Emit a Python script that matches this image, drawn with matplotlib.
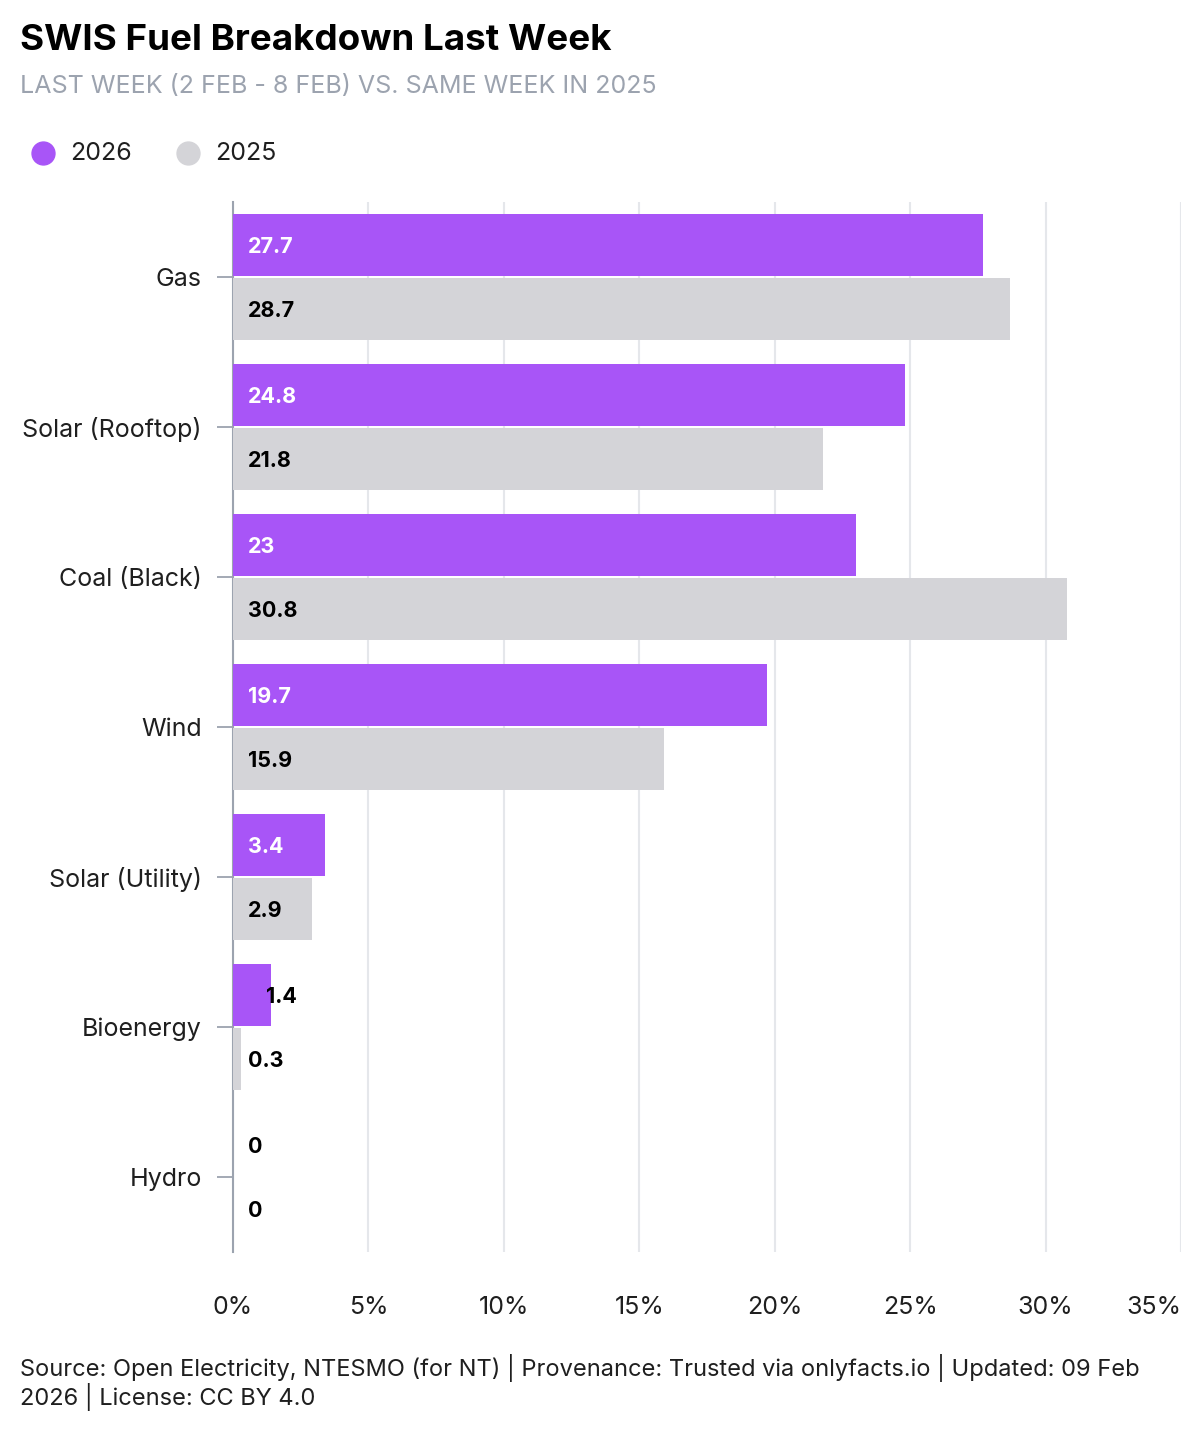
import matplotlib
matplotlib.use("Agg")
import matplotlib.pyplot as plt
from matplotlib.lines import Line2D

plt.rcParams['font.family'] = ['Inter', 'DejaVu Sans']

categories = ["Gas", "Solar (Rooftop)", "Coal (Black)", "Wind", "Solar (Utility)", "Bioenergy", "Hydro"]
values_2026 = [27.7, 24.8, 23, 19.7, 3.4, 1.4, 0]
values_2025 = [28.7, 21.8, 30.8, 15.9, 2.9, 0.3, 0]
label_2026 = ["27.7", "24.8", "23", "19.7", "3.4", "1.4", "0"]
label_2025 = ["28.7", "21.8", "30.8", "15.9", "2.9", "0.3", "0"]
xticks = [0, 5, 10, 15, 20, 25, 30, 35]
xtick_labels = ["0%", "5%", "10%", "15%", "20%", "25%", "30%", "35%"]
series_names = ["2026", "2025"]

PURPLE = "#a855f7"
GREY = "#d4d4d8"
GRID = "#e5e7eb"
AXIS = "#9ca3af"
TEXT = "#1f1f1f"

fig = plt.figure(figsize=(12, 14.4), dpi=100)
ax = fig.add_axes([233/1200, 188/1440, 948/1200, 1050/1440])

n = len(categories)
ys = list(range(n))
h = 0.413
off = 0.2133
ax.barh([y - off for y in ys], values_2026, height=h, color=PURPLE, zorder=3)
ax.barh([y + off for y in ys], values_2025, height=h, color=GREY, zorder=3)

lab_x = 0.55
va = "center_baseline"
for y, v, s in zip(ys, values_2026, label_2026):
    if v >= 2.5:
        ax.text(lab_x, y - off, s, color="white", fontweight="bold", fontsize=15.5, va=va, ha="left", zorder=4)
    elif v > lab_x:
        ax.text(v - 0.2, y - off, s, color="black", fontweight="bold", fontsize=15.5, va=va, ha="left", zorder=4)
    else:
        ax.text(lab_x, y - off, s, color="black", fontweight="bold", fontsize=15.5, va=va, ha="left", zorder=4)
for y, v, s in zip(ys, values_2025, label_2025):
    ax.text(lab_x, y + off, s, color="black", fontweight="bold", fontsize=15.5, va=va, ha="left", zorder=4)

ax.set_xlim(0, 35)
ax.set_ylim(n - 0.5, -0.5)
ax.set_xticks(xticks)
ax.set_xticklabels(xtick_labels, fontsize=18, color=TEXT)
ax.get_xticklabels()[-1].set_horizontalalignment("right")
ax.set_yticks(ys)
ax.set_yticklabels(categories, fontsize=18, color=TEXT)
ax.tick_params(axis="x", length=0, pad=32)
ax.tick_params(axis="y", length=11.5, width=1.3, color=AXIS, pad=11)
ax.xaxis.grid(True, color=GRID, linewidth=1.5, zorder=0)
ax.set_axisbelow(True)
for s in ["top", "right", "bottom"]:
    ax.spines[s].set_visible(False)
ax.spines["left"].set_color(AXIS)
ax.spines["left"].set_linewidth(1.5)
ax.spines["left"].set_zorder(1)

fig.text(20/1200, 1 - 40/1440, "SWIS Fuel Breakdown Last Week", fontsize=26.5, fontweight="bold", color="black", va="center", ha="left")
fig.text(20/1200, 1 - 87/1440, "LAST WEEK (2 FEB - 8 FEB) VS. SAME WEEK IN 2025", fontsize=18, color=AXIS, va="center", ha="left")

# legend
ly = 1 - 153/1440
for (cx, tx), name, col in zip([(43, 70), (188, 215)], series_names, [PURPLE, GREY]):
    fig.add_artist(Line2D([cx/1200], [ly], marker="o", linestyle="", markersize=16.5,
                          markerfacecolor=col, markeredgecolor=col, transform=fig.transFigure))
    fig.text(tx/1200, ly, name, fontsize=18, color=TEXT, va="center", ha="left")

fig.text(20/1200, 1 - 1368/1440, "Source: Open Electricity, NTESMO (for NT) | Provenance: Trusted via onlyfacts.io | Updated: 09 Feb",
         fontsize=17, color=TEXT, va="center", ha="left")
fig.text(20/1200, 1 - 1397/1440, "2026 | License: CC BY 4.0", fontsize=17, color=TEXT, va="center", ha="left")

fig.savefig("out.png", dpi=100)
